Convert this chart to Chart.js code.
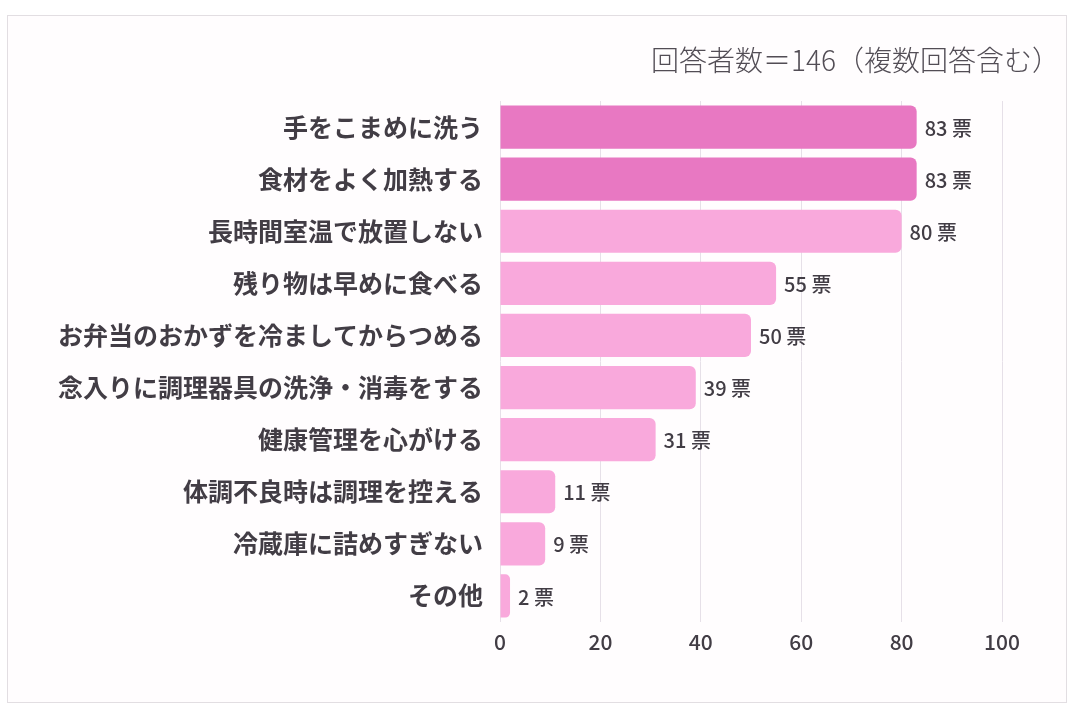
<!DOCTYPE html>
<html>
<head>
<meta charset="utf-8">
<script src="https://cdn.jsdelivr.net/npm/chart.js@4"></script>
<style>
  html, body { margin: 0; padding: 0; background: #ffffff; }
  #wrap { position: relative; width: 1080px; height: 720px; }
  #card { position: absolute; left: 7px; top: 15px; width: 1058px; height: 686px;
          border: 1px solid #e2dee2; background: #fffdfe; }
  #chart { position: absolute; left: 0; top: 0; }
</style>
</head>
<body>
<div id="wrap">
  <div id="card"></div>
  <canvas id="chart" width="1080" height="720"></canvas>
</div>
<script>
// 項目
const categories = [
    '手をこまめに洗う',
    '食材をよく加熱する',
    '長時間室温で放置しない',
    '残り物は早めに食べる',
    'お弁当のおかずを冷ましてからつめる',
    '念入りに調理器具の洗浄・消毒をする',
    '健康管理を心がける',
    '体調不良時は調理を控える',
    '冷蔵庫に詰めすぎない',
    'その他'
];
// 票数
const votes = [83, 83, 80, 55, 50, 39, 31, 11, 9, 2];
const xTicks = [0, 20, 40, 60, 80, 100];
const titleText = '回答者数＝146（複数回答含む）';
const unit = '票';

const FONT = '"Noto Sans CJK JP", "Noto Sans", sans-serif';
const strong = '#e878c2';
const light = '#f9a9dc';
const topValue = Math.max(...votes);
const barColors = votes.map(v => v === topValue ? strong : light);

// 棒の右側に票数を描く
const valueLabels = {
    id: 'valueLabels',
    afterDatasetsDraw(chart) {
        const ctx = chart.ctx;
        const meta = chart.getDatasetMeta(0);
        ctx.save();
        ctx.font = '500 20px ' + FONT;
        ctx.fillStyle = '#423d45';
        ctx.textAlign = 'left';
        ctx.textBaseline = 'middle';
        meta.data.forEach((bar, i) => {
            ctx.fillText(votes[i] + ' ' + unit, bar.x + 8, bar.y + 1);
        });
        ctx.restore();
    }
};

// 右上の注記
const noteTitle = {
    id: 'noteTitle',
    afterDraw(chart) {
        const ctx = chart.ctx;
        ctx.save();
        ctx.font = '300 28px ' + FONT;
        ctx.fillStyle = '#524d55';
        ctx.textAlign = 'right';
        ctx.textBaseline = 'middle';
        ctx.fillText(titleText, chart.width - 20, 60);
        ctx.restore();
    }
};

const config = {
    type: 'bar',
    data: {
        labels: categories,
        datasets: [{
            data: votes,
            backgroundColor: barColors,
            borderRadius: 6,
            borderSkipped: 'start',
            categoryPercentage: 1,
            barPercentage: 0.83
        }]
    },
    options: {
        indexAxis: 'y',
        responsive: false,
        animation: false,
        layout: { padding: { top: 101, right: 78, left: 0, bottom: 0 } },
        plugins: {
            legend: { display: false },
            tooltip: { enabled: false }
        },
        scales: {
            x: {
                min: 0,
                max: 100,
                afterBuildTicks(scale) {
                    scale.ticks = xTicks.map(v => ({ value: v }));
                },
                afterFit(scale) { scale.height = 98; },
                grid: { color: '#e6e0e8', drawTicks: false },
                border: { display: false },
                ticks: {
                    padding: 7,
                    color: '#423d45',
                    font: { family: FONT, size: 21, weight: '500' }
                }
            },
            y: {
                afterFit(scale) { scale.width = 500; },
                grid: { display: false, drawTicks: false },
                border: { display: false },
                ticks: {
                    padding: 17,
                    color: '#423d45',
                    font: { family: FONT, size: 25, weight: 'bold' }
                }
            }
        }
    },
    plugins: [valueLabels, noteTitle]
};

const chart = new Chart(document.getElementById('chart'), config);
</script>
</body>
</html>
